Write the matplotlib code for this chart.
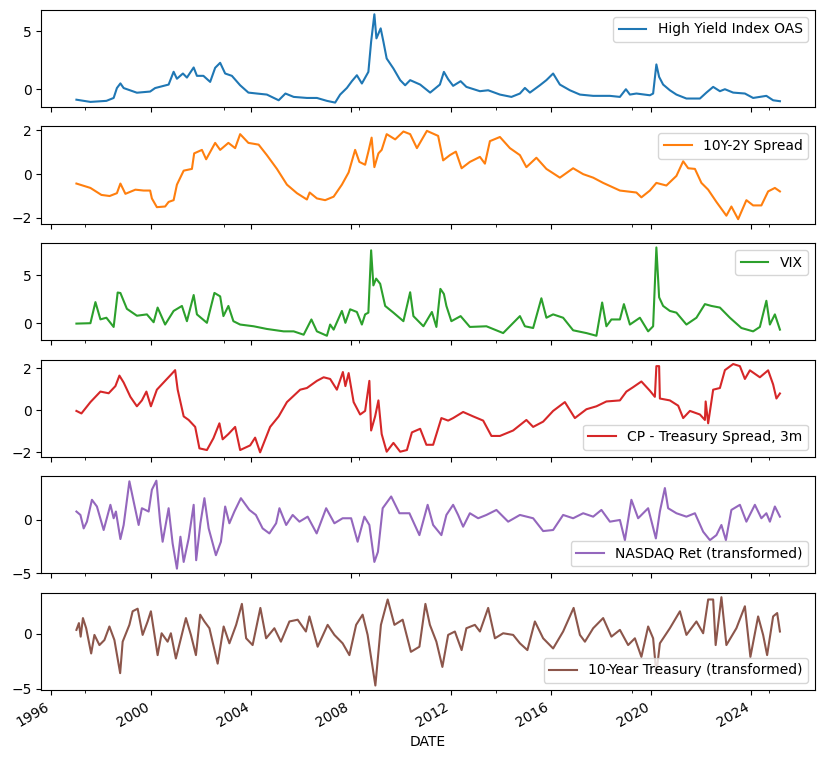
import pandas as pd
import matplotlib
matplotlib.use('Agg')
import matplotlib.pyplot as plt

# values, as (decimal year, value)
hy_years = [1997.0, 1997.56, 1998.2, 1998.49, 1998.62, 1998.76, 1998.89, 1999.42, 1999.95, 2000.15, 2000.69,
            2000.89, 2001.02, 2001.26, 2001.42, 2001.69, 2001.82, 2002.08, 2002.35, 2002.55, 2002.75, 2002.95,
            2003.22, 2003.55, 2003.88, 2004.22, 2004.62, 2005.09, 2005.36, 2005.69, 2006.22, 2006.62, 2007.02,
            2007.35, 2007.55, 2007.82, 2008.02, 2008.22, 2008.42, 2008.68, 2008.79, 2008.92, 2009.0, 2009.17,
            2009.28, 2009.41, 2009.68, 2009.95, 2010.15, 2010.35, 2010.75, 2011.15, 2011.54, 2011.7, 2011.87,
            2012.07, 2012.37, 2012.6, 2013.14, 2013.47, 2013.94, 2014.4, 2014.74, 2014.94, 2015.14, 2015.54,
            2015.8, 2016.07, 2016.34, 2016.74, 2017.14, 2017.67, 2018.34, 2018.74, 2018.98, 2019.14, 2019.4,
            2019.94, 2020.07, 2020.2, 2020.31, 2020.47, 2020.74, 2021.0, 2021.4, 2021.94, 2022.2, 2022.47,
            2022.74, 2022.94, 2023.27, 2023.74, 2024.07, 2024.6, 2024.87, 2025.14]
hy_vals = [-0.9, -1.09, -1.0, -0.75, 0.1, 0.5, 0.1, -0.3, -0.2, 0.1, 0.4,
           1.5, 0.9, 1.35, 1.0, 1.87, 1.15, 1.15, 0.63, 1.84, 2.27, 1.35,
           1.15, 0.34, -0.29, -0.37, -0.46, -0.95, -0.37, -0.66, -0.75, -0.75, -1.0,
           -1.15, -0.46, 0.11, 0.69, 1.2, 0.49, 1.49, 4.08, 6.44, 4.37, 5.23,
           4.08, 2.64, 1.78, 0.78, 0.34, 0.78, 0.4, -0.29, 0.4, 1.49, 0.86,
           0.29, 0.69, 0.2, -0.17, -0.09, -0.46, -0.66, -0.37, 0.11, -0.29, 0.34,
           0.78, 1.35, 0.4, -0.09, -0.46, -0.57, -0.57, -0.66, 0.0, -0.46, -0.37,
           -0.52, -0.37, 2.13, 1.06, 0.4, -0.09, -0.46, -0.8, -0.8, -0.29, 0.2,
           -0.17, 0.0, -0.29, -0.37, -0.75, -0.57, -0.95, -1.03]

spread_years = [1997.0, 1997.56, 1998.0, 1998.33, 1998.62, 1998.76, 1998.96, 1999.36, 1999.69, 1999.95,
                2000.02, 2000.22, 2000.55, 2000.69, 2000.89, 2001.02, 2001.29, 2001.62, 2001.71, 2002.02,
                2002.19, 2002.55, 2002.75, 2003.08, 2003.35, 2003.55, 2003.88, 2004.29, 2004.62, 2005.02,
                2005.42, 2005.82, 2006.22, 2006.33, 2006.62, 2006.95, 2007.29, 2007.62, 2007.89, 2008.15,
                2008.32, 2008.55, 2008.68, 2008.81, 2008.92, 2009.08, 2009.21, 2009.41, 2009.75, 2010.08,
                2010.35, 2010.62, 2011.02, 2011.47, 2011.67, 2011.94, 2012.18, 2012.41, 2012.74, 2013.14,
                2013.34, 2013.54, 2013.94, 2014.34, 2014.74, 2015.0, 2015.4, 2015.8, 2016.34, 2016.87,
                2017.27, 2017.67, 2018.07, 2018.74, 2019.4, 2019.6, 2019.94, 2020.2, 2020.6, 2021.0,
                2021.27, 2021.47, 2021.74, 2022.0, 2022.27, 2022.6, 2023.0, 2023.2, 2023.47, 2023.8,
                2024.07, 2024.4, 2024.67, 2024.94, 2025.14]
spread_vals = [-0.43, -0.63, -0.95, -1.0, -0.87, -0.43, -0.9, -0.71, -0.75, -0.75,
               -1.11, -1.51, -1.48, -1.27, -1.19, -0.48, 0.16, 0.24, 0.95, 1.11,
               0.68, 1.43, 1.11, 1.43, 1.19, 1.83, 1.43, 1.35, 0.87, 0.24,
               -0.48, -0.87, -1.16, -0.84, -1.11, -1.19, -1.03, -0.48, 0.08, 1.11,
               0.56, 0.43, 1.03, 1.67, 0.32, 0.95, 1.11, 1.83, 1.59, 1.95,
               1.83, 1.19, 1.98, 1.75, 0.63, 0.87, 1.03, 0.27, 0.56, 0.79,
               0.48, 1.51, 1.7, 1.19, 0.87, 0.32, 0.75, 0.24, -0.16, 0.27,
               0.0, -0.16, -0.4, -0.75, -0.84, -1.06, -0.75, -0.4, -0.52, -0.08,
               0.59, 0.27, 0.24, -0.4, -0.71, -1.27, -1.9, -1.48, -2.06, -1.19,
               -1.43, -1.43, -0.79, -0.63, -0.79]

vix_years = [1997.0, 1997.56, 1997.76, 1997.96, 1998.2, 1998.49, 1998.65, 1998.76, 1999.02, 1999.42,
             1999.82, 2000.09, 2000.25, 2000.55, 2000.89, 2001.22, 2001.42, 2001.69, 2001.82, 2002.22,
             2002.52, 2002.75, 2002.88, 2003.08, 2003.28, 2003.55, 2004.09, 2004.62, 2005.29, 2005.69,
             2006.09, 2006.4, 2006.62, 2007.02, 2007.15, 2007.29, 2007.62, 2007.76, 2007.95, 2008.22,
             2008.42, 2008.55, 2008.68, 2008.79, 2008.88, 2008.99, 2009.15, 2009.35, 2009.68, 2010.08,
             2010.35, 2010.48, 2010.88, 2011.22, 2011.4, 2011.56, 2011.7, 2011.8, 2012.0, 2012.37,
             2012.74, 2013.4, 2014.07, 2014.74, 2014.94, 2015.27, 2015.6, 2015.8, 2016.07, 2016.47,
             2016.87, 2017.4, 2017.8, 2018.03, 2018.2, 2018.4, 2018.74, 2018.9, 2019.14, 2019.54,
             2019.87, 2020.07, 2020.2, 2020.31, 2020.47, 2020.74, 2021.0, 2021.4, 2021.8, 2022.14,
             2022.4, 2022.74, 2023.14, 2023.6, 2024.07, 2024.34, 2024.6, 2024.74, 2024.94, 2025.14]
vix_vals = [-0.04, 0.0, 2.2, 0.4, 0.57, -0.39, 3.2, 3.15, 1.5, 0.78,
            0.92, 0.1, 1.63, -0.14, 1.28, 1.8, 0.21, 2.94, 0.92, 0.04,
            3.16, 2.8, 0.74, 1.8, 0.21, -0.14, -0.32, -0.6, -0.85, -0.85,
            -1.2, 0.39, -0.85, -1.31, -0.14, -0.67, 1.28, 0.04, 1.45, 1.17,
            -0.14, 0.92, 1.1, 7.6, 3.94, 4.65, 4.11, 1.8, 1.1, 0.21,
            3.23, 0.74, -0.32, 1.17, -0.39, 3.58, 3.05, 1.8, 0.21, 0.74,
            -0.39, -0.32, -1.03, 0.74, -0.32, -0.5, 2.6, 0.57, 0.92, 0.57,
            -0.74, -1.03, -1.31, 2.16, -0.32, 0.39, 0.39, 1.99, -0.14, 0.57,
            -0.85, -0.32, 7.9, 2.7, 1.8, 1.28, 1.1, -0.14, 0.57, 1.99,
            1.8, 1.63, 0.57, -0.5, -0.85, -0.39, 2.34, -0.14, 0.92, -0.67]

cp_years = [1997.0, 1997.2, 1997.56, 1997.96, 1998.29, 1998.56, 1998.72, 1998.89, 1999.16, 1999.42,
            1999.62, 1999.8, 1999.98, 2000.22, 2000.55, 2000.82, 2000.95, 2001.05, 2001.29, 2001.49,
            2001.75, 2001.92, 2002.22, 2002.48, 2002.72, 2002.85, 2003.08, 2003.35, 2003.55, 2003.95,
            2004.15, 2004.35, 2004.75, 2005.09, 2005.42, 2005.95, 2006.22, 2006.62, 2006.89, 2007.15,
            2007.42, 2007.66, 2007.76, 2007.89, 2008.09, 2008.35, 2008.55, 2008.72, 2008.79, 2008.95,
            2009.08, 2009.21, 2009.41, 2009.68, 2009.95, 2010.22, 2010.42, 2010.75, 2011.0, 2011.27,
            2011.6, 2011.87, 2012.07, 2012.47, 2012.87, 2013.27, 2013.6, 2013.94, 2014.47, 2015.0,
            2015.27, 2015.67, 2016.07, 2016.54, 2016.94, 2017.4, 2017.8, 2018.2, 2018.74, 2019.0,
            2019.27, 2019.6, 2019.94, 2020.14, 2020.2, 2020.31, 2020.34, 2020.74, 2021.07, 2021.27,
            2021.54, 2021.94, 2022.14, 2022.17, 2022.27, 2022.47, 2022.74, 2022.94, 2023.27, 2023.54,
            2023.74, 2023.94, 2024.34, 2024.67, 2024.87, 2025.0, 2025.14]
cp_vals = [-0.03, -0.15, 0.39, 0.89, 0.81, 1.15, 1.65, 1.32, 0.64, 0.19,
           0.47, 0.89, 0.19, 0.98, 1.4, 1.74, 1.91, 0.98, -0.29, -0.46,
           -0.79, -1.81, -1.89, -1.33, -0.62, -1.38, -1.13, -0.79, -1.89, -1.67,
           -1.3, -2.0, -0.79, -0.29, 0.39, 0.98, 1.06, 1.4, 1.57, 1.49,
           0.98, 1.82, 1.15, 1.77, 0.39, -0.2, -0.03, 1.4, -0.96, -0.29,
           0.47, -1.13, -1.97, -1.55, -1.97, -1.89, -1.05, -0.88, -1.64, -1.64,
           -0.37, -0.49, -0.37, -0.08, -0.29, -0.49, -1.22, -1.22, -0.96, -0.46,
           -0.79, -0.54, -0.03, 0.39, -0.37, 0.05, 0.19, 0.42, 0.47, 0.89,
           1.1, 1.37, 0.93, 0.64, 2.1, 2.1, 0.56, 0.47, 0.22, -0.37,
           -0.03, -0.2, -0.46, 0.42, -0.62, 0.98, 1.06, 1.91, 2.2, 2.1,
           1.49, 1.9, 1.57, 1.9, 1.23, 0.56, 0.8]

nasdaq_years = [1997.0, 1997.16, 1997.29, 1997.42, 1997.62, 1997.82, 1998.09, 1998.36, 1998.49, 1998.58,
                1998.76, 1998.89, 1999.12, 1999.29, 1999.49, 1999.62, 1999.89, 2000.02, 2000.2, 2000.35,
                2000.45, 2000.69, 2000.85, 2001.02, 2001.16, 2001.29, 2001.49, 2001.69, 2001.79, 2001.96,
                2002.12, 2002.29, 2002.58, 2002.78, 2002.95, 2003.12, 2003.32, 2003.58, 2003.92, 2004.18,
                2004.45, 2004.72, 2004.99, 2005.12, 2005.39, 2005.65, 2005.92, 2006.25, 2006.61, 2006.99,
                2007.32, 2007.65, 2007.99, 2008.25, 2008.52, 2008.72, 2008.92, 2009.06, 2009.25, 2009.59,
                2009.92, 2010.32, 2010.72, 2011.05, 2011.27, 2011.6, 2011.8, 2012.07, 2012.27, 2012.47,
                2012.74, 2013.07, 2013.4, 2013.8, 2014.27, 2014.74, 2015.27, 2015.67, 2016.07, 2016.47,
                2016.87, 2017.27, 2017.67, 2018.0, 2018.34, 2018.74, 2018.94, 2019.2, 2019.47, 2019.87,
                2020.18, 2020.34, 2020.54, 2020.67, 2021.0, 2021.4, 2021.74, 2022.07, 2022.34, 2022.6,
                2022.8, 2022.98, 2023.2, 2023.54, 2023.8, 2024.14, 2024.4, 2024.6, 2024.74, 2024.94, 2025.14]
nasdaq_vals = [0.79, 0.47, -0.79, -0.16, 1.89, 1.26, -0.94, 1.42, 0.16, 0.79,
               -1.79, -0.47, 3.62, 1.73, -0.47, 1.1, 0.79, 2.83, 3.68, -0.16,
               -2.04, 1.1, -2.2, -4.56, -1.57, -3.93, -1.73, 1.42, -3.77, -0.31,
               2.04, -0.79, -3.3, -2.04, 1.26, -0.31, 0.79, 2.04, 0.94, 0.47,
               -0.79, -1.26, -0.31, 1.1, -0.47, 0.47, -0.16, 0.31, -1.26, 1.1,
               -0.31, 0.16, 0.16, -2.04, 0.31, -0.47, -3.93, -2.99, 1.1, 2.2,
               0.63, 0.63, -1.42, 1.42, -0.47, -1.42, 0.47, 1.42, 0.47, -0.63,
               0.63, 0.16, 0.47, 0.94, -0.16, 0.47, 0.16, -1.04, -0.94, 0.47,
               0.16, 0.63, 0.31, 0.94, -0.16, 0.0, -1.89, 1.89, 0.16, 1.1,
               -1.73, 0.79, 2.99, 1.1, 0.63, 0.31, 0.63, -1.1, -1.89, -1.42,
               -0.47, -1.89, 0.94, 1.42, -0.16, 1.42, 0.16, 0.63, -0.16, 1.26, 0.31]

tsy_years = [1997.0, 1997.1, 1997.17, 1997.26, 1997.39, 1997.59, 1997.72, 1997.92, 1998.12, 1998.32,
             1998.52, 1998.75, 1998.85, 1999.12, 1999.25, 1999.45, 1999.65, 1999.85, 1999.98, 2000.25,
             2000.41, 2000.65, 2000.78, 2000.98, 2001.18, 2001.38, 2001.58, 2001.78, 2001.95, 2002.12,
             2002.32, 2002.65, 2002.89, 2003.12, 2003.39, 2003.62, 2003.79, 2004.05, 2004.36, 2004.59,
             2004.92, 2005.18, 2005.52, 2005.85, 2006.18, 2006.32, 2006.65, 2007.05, 2007.32, 2007.65,
             2007.92, 2008.19, 2008.45, 2008.65, 2008.96, 2009.18, 2009.45, 2009.72, 2010.05, 2010.38,
             2010.72, 2010.96, 2011.14, 2011.4, 2011.64, 2011.87, 2012.14, 2012.41, 2012.6, 2012.94,
             2013.14, 2013.47, 2013.74, 2014.07, 2014.47, 2014.74, 2015.04, 2015.34, 2015.67, 2016.07,
             2016.47, 2016.89, 2017.14, 2017.34, 2017.67, 2018.07, 2018.4, 2018.74, 2019.07, 2019.34,
             2019.6, 2019.87, 2020.07, 2020.2, 2020.34, 2020.74, 2021.14, 2021.4, 2021.8, 2022.07,
             2022.27, 2022.47, 2022.57, 2022.8, 2023.0, 2023.4, 2023.74, 2023.96, 2024.27, 2024.47,
             2024.63, 2024.87, 2025.03, 2025.14]
tsy_vals = [0.37, 0.99, -0.25, 1.45, 0.52, -1.79, -0.09, -1.02, -0.56, 0.68,
            -0.56, -3.59, -0.71, 0.83, 2.07, 2.31, -0.09, 1.14, 2.07, -1.94,
            0.06, -0.71, 0.06, -2.25, -0.4, 1.45, -0.09, -1.94, 1.76, 1.14,
            0.52, -2.72, 0.68, -0.86, 0.83, 2.75, -0.4, -1.02, 2.38, -0.4,
            0.52, -0.71, 1.14, 1.3, 0.22, 1.6, -1.17, 0.83, -0.09, -0.86,
            -1.94, 0.83, 1.76, -0.09, -4.72, 0.83, 3.15, 0.83, 1.3, -1.64,
            -1.17, 2.75, 0.83, -0.71, -3.02, -0.09, 0.22, -1.48, 0.52, 0.83,
            0.22, 2.38, -0.4, 0.06, -0.09, -0.86, -1.48, 1.14, -0.4, -1.33,
            0.22, 2.38, -0.09, -0.71, 0.52, 1.45, -0.25, 0.37, -1.02, -0.4,
            -2.1, 0.68, -0.4, -3.64, -0.86, 0.52, 2.07, -0.09, 1.14, 0.06,
            3.15, 3.15, -1.02, 3.36, -1.02, 0.52, 2.53, -2.1, 1.6, -0.09,
            -1.94, 1.6, 1.91, 0.22]

series = [
    ('High Yield Index OAS', hy_years, hy_vals, 'upper right', [0, 5]),
    ('10Y-2Y Spread', spread_years, spread_vals, 'upper right', [-2, 0, 2]),
    ('VIX', vix_years, vix_vals, 'upper right', [0, 5]),
    ('CP - Treasury Spread, 3m', cp_years, cp_vals, 'lower right', [-2, 0, 2]),
    ('NASDAQ Ret (transformed)', nasdaq_years, nasdaq_vals, 'lower right', [-5, 0]),
    ('10-Year Treasury (transformed)', tsy_years, tsy_vals, 'lower right', [-5, 0]),
]
colors = ['#1f77b4', '#ff7f0e', '#2ca02c', '#d62728', '#9467bd', '#8c564b']
minor_dates = ['1997-05-10', '2002-11-20', '2008-04-25', '2013-10-15', '2019-03-20', '2024-09-10']


def to_dates(years):
    out = []
    for y in years:
        base = pd.Timestamp(year=int(y), month=1, day=1)
        out.append(base + pd.Timedelta(days=(y - int(y)) * 365.25))
    return out


fig, axes = plt.subplots(6, 1, figsize=(8.25, 7.59), sharex=True, dpi=100)

for ax, (name, yrs, vals, loc, yt), color in zip(axes, series, colors):
    ax.plot(to_dates(yrs), vals, color=color, label=name)
    ax.set_yticks(yt)
    ax.legend(loc=loc)
    ax.set_xticks(pd.to_datetime(minor_dates), minor=True)

axes[4].set_ylim(-5.0, 4.1)
axes[-1].set_xlabel('DATE')
fig.autofmt_xdate()
fig.subplots_adjust(left=0.05, right=0.988, top=0.987, bottom=0.091, hspace=0.2)

plt.savefig('out.png', dpi=100)
